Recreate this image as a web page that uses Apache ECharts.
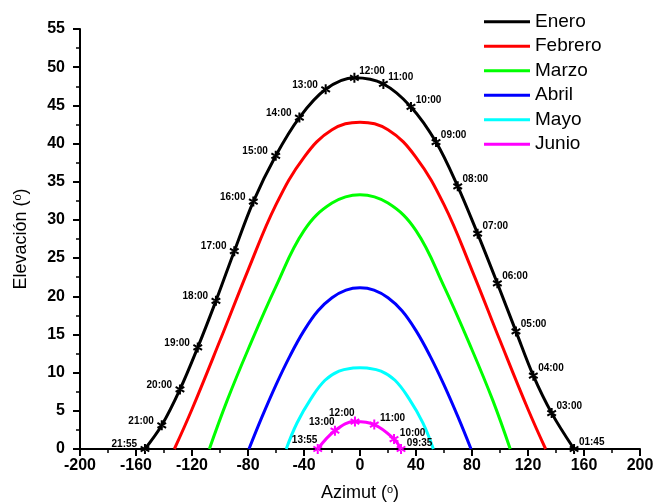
<!DOCTYPE html>
<html>
<head>
<meta charset="utf-8">
<script src="https://cdn.jsdelivr.net/npm/echarts@6/dist/echarts.min.js"></script>
<style>html,body{margin:0;padding:0;background:#fff}#c{width:653px;height:502px}</style>
</head>
<body>
<div id="c"></div>
<script>
const months = ['Enero','Febrero','Marzo','Abril','Mayo','Junio'];
const xTicks = [-200,-160,-120,-80,-40,0,40,80,120,160,200];
const yTicks = [0,5,10,15,20,25,30,35,40,45,50,55];

const eneroTime = ['21:55','21:00','20:00','19:00','18:00','17:00','16:00','15:00','14:00','13:00','12:00','11:00','10:00','09:00','08:00','07:00','06:00','05:00','04:00','03:00','01:45'];
const eneroAz = [-153.6,-141.6,-128.6,-115.9,-102.9,-89.8,-76.2,-60.2,-43.3,-24.5,-4.0,16.7,36.4,54.3,69.8,84.0,98.1,111.4,123.8,136.9,152.9];
const eneroEl = [0,3.1,7.8,13.3,19.4,25.9,32.4,38.4,43.4,47.1,48.6,47.8,44.8,40.2,34.4,28.2,21.7,15.4,9.6,4.7,0];

const febAz = [-132.6,-120,-100,-80,-60,-40,-20,0,20,40,60,80,100,120,132.6];
const febEl = [0,5.2,14.2,23.4,32.0,38.2,41.8,42.8,41.8,38.2,32.0,23.4,14.2,5.2,0];

const marAz = [-107.6,-95,-80,-60,-40,-20,0,20,40,60,80,95,107.3];
const marEl = [0,6.3,13,21.3,28.6,32.2,33.3,32.2,28.6,21.3,13,6.3,0];

const abrAz = [-79.3,-70,-60,-50,-40,-30,-20,-10,0,10,20,30,40,50,60,70,79.3];
const abrEl = [0,4.2,8.4,12.2,15.5,18.1,19.8,20.8,21.1,20.8,19.8,18.1,15.5,12.2,8.4,4.2,0];

const mayAz = [-52.7,-45,-35,-25,-15,-5,0,5,15,25,35,45,52.4];
const mayEl = [0,3.4,6.6,9.0,10.2,10.6,10.65,10.6,10.2,9.0,6.6,3.4,0];

const junioTime = ['13:55','13:00','12:00','11:00','10:00','09:35'];
const junioAz = [-30.2,-17.9,-3.6,10.2,24.3,29.3];
const junioEl = [0,2.4,3.6,3.2,1.3,0];

const colors = ['#000000','#ff0000','#00ff00','#0000ff','#00ffff','#ff00ff'];
const FONT = '"Liberation Sans", Arial, sans-serif';
const star = 'path://M-1,-5L1,-5L1,5L-1,5Z M3.83,3.37L4.83,1.63L-3.83,-3.37L-4.83,-1.63Z M-3.83,3.37L-4.83,1.63L3.83,-3.37L4.83,-1.63Z';

function zip(a, b) { return a.map((v, i) => [v, b[i]]); }
function hourOf(t) { return parseInt(t.split(':')[0], 10); }

const lblBase = {show: true, color: '#000', fontFamily: FONT, fontWeight: 'bold', fontSize: 10};

const eneroData = eneroAz.map((az, i) => {
  const t = eneroTime[i];
  const right = hourOf(t) <= 12;
  return {
    value: [az, eneroEl[i]],
    label: Object.assign({}, lblBase, right
      ? {position: 'right', distance: 0, offset: [0, -7], formatter: t}
      : {position: 'left', distance: 3, offset: [0, -4.5], formatter: t})
  };
});
const junioData = junioAz.map((az, i) => {
  const t = junioTime[i];
  const left = hourOf(t) >= 12;
  return {
    value: [az, junioEl[i]],
    label: Object.assign({}, lblBase, left
      ? {position: 'left', distance: 0, offset: [4.5, -8.5], formatter: t}
      : {position: 'right', distance: 1, offset: [0, -6], formatter: t})
  };
});

function plain(name, az, el, color) {
  return {name, type: 'line', data: zip(az, el), smooth: 0.4, showSymbol: false, symbol: 'none',
    lineStyle: {color, width: 3}, itemStyle: {color}, z: 2};
}

const series = [
  {name: months[0], type: 'line', data: eneroData, smooth: 0.35, symbol: star, symbolSize: 10, symbolKeepAspect: true,
   showAllSymbol: true, lineStyle: {color: colors[0], width: 3}, itemStyle: {color: colors[0]}, z: 3},
  plain(months[1], febAz, febEl, colors[1]),
  plain(months[2], marAz, marEl, colors[2]),
  plain(months[3], abrAz, abrEl, colors[3]),
  plain(months[4], mayAz, mayEl, colors[4]),
  {name: months[5], type: 'line', data: junioData, smooth: 0.4, symbol: star, symbolSize: 10, symbolKeepAspect: true,
   showAllSymbol: true, lineStyle: {color: colors[5], width: 3}, itemStyle: {color: colors[5]}, z: 3}
];

const axisCommon = {
  axisLine: {show: true, onZero: false, lineStyle: {color: '#000', width: 2}},
  axisTick: {show: true, length: 7, lineStyle: {color: '#000', width: 2}},
  minorTick: {show: true, splitNumber: 2, length: 4, lineStyle: {color: '#000', width: 1.5}},
  splitLine: {show: false},
  axisLabel: {color: '#000', fontFamily: FONT, fontWeight: 'bold', fontSize: 16},
  nameLocation: 'middle',
  nameTextStyle: {color: '#000', fontFamily: FONT, fontSize: 18,
    rich: {s: {fontSize: 11, verticalAlign: 'top', color: '#000', fontFamily: FONT}}}
};

const chart = echarts.init(document.getElementById('c'), null, {renderer: 'canvas'});
chart.setOption({
  animation: false,
  backgroundColor: '#fff',
  color: colors,
  grid: {left: 80, right: 13, top: 29, bottom: 53, containLabel: false, outerBoundsMode: 'none'},
  legend: {
    orient: 'vertical', left: 484, top: 12, padding: 0, icon: 'rect', itemWidth: 46, itemHeight: 3, itemGap: 5,
    data: months,
    textStyle: {color: '#000', fontFamily: FONT, fontSize: 19, lineHeight: 19.5, padding: [0, 0, 0, 0]}
  },
  xAxis: Object.assign({}, axisCommon, {
    type: 'value', min: xTicks[0], max: xTicks[xTicks.length - 1], interval: 40,
    name: 'Azimut ({s|o})', nameGap: 35,
    axisLabel: Object.assign({}, axisCommon.axisLabel, {margin: 9})
  }),
  yAxis: Object.assign({}, axisCommon, {
    type: 'value', min: yTicks[0], max: yTicks[yTicks.length - 1], interval: 5,
    name: 'Elevación ({s|o})', nameGap: 50,
    axisLabel: Object.assign({}, axisCommon.axisLabel, {margin: 15})
  }),
  series
});
</script>
</body>
</html>
